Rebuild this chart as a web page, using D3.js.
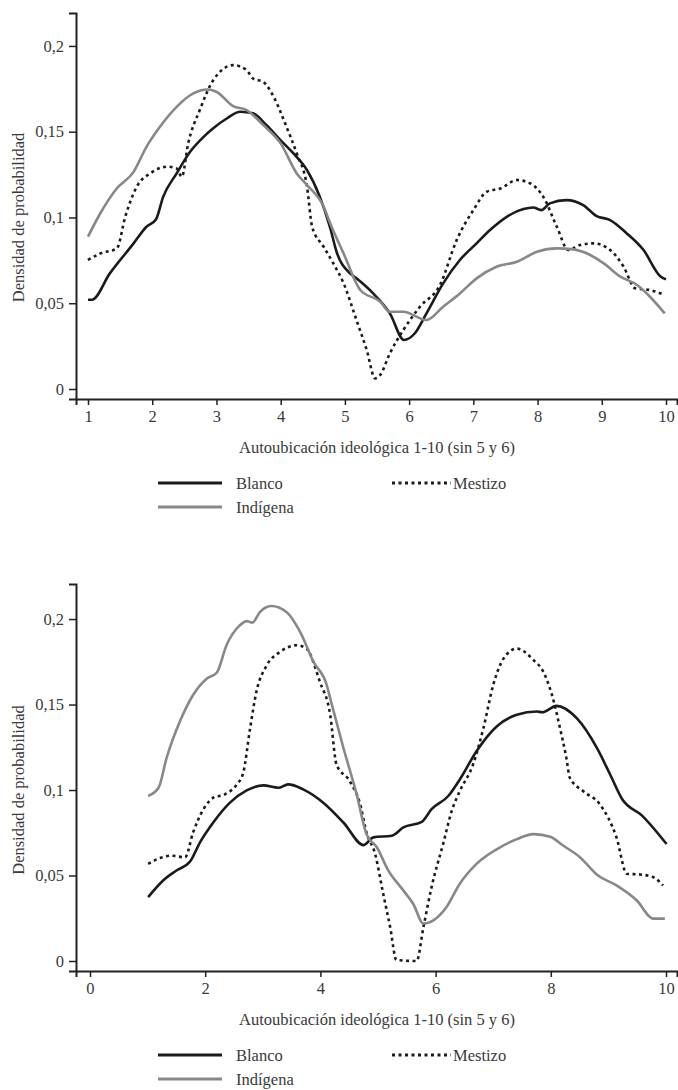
<!DOCTYPE html>
<html><head><meta charset="utf-8">
<script src="https://cdn.jsdelivr.net/npm/d3@7"></script>
<style>body{margin:0;background:#fff}svg{display:block}text{font-family:"Liberation Serif","Times New Roman",serif;fill:#3a3a3a}</style>
</head><body><svg id="c" width="678" height="1090"></svg>
<script>
// ---- data ----
const seriesNames = ["Blanco", "Mestizo", "Indígena"];
const yTickValues = [0, 0.05, 0.1, 0.15, 0.2];
const yTickLabels = ["0", "0,05", "0,1", "0,15", "0,2"];
const topXTicks = [1, 2, 3, 4, 5, 6, 7, 8, 9, 10];
const bottomXTicks = [0, 2, 4, 6, 8, 10];
const xTitle = "Autoubicación ideológica 1-10 (sin 5 y 6)";
const yTitle = "Densidad de probabilidad";

const topBlanco = [[1,0.052],[1.06,0.052],[1.34,0.0674],[1.71,0.0849],[1.91,0.0946],[2.06,0.099],[2.17,0.112],[2.38,0.1257],[2.59,0.1383],[2.8,0.147],[2.95,0.152],[3.16,0.1577],[3.37,0.1616],[3.57,0.1607],[3.78,0.1538],[4.0,0.145],[4.2,0.1373],[4.41,0.1276],[4.61,0.112],[4.77,0.094],[4.87,0.08],[5.08,0.0674],[5.18,0.0645],[5.44,0.0557],[5.7,0.0441],[5.92,0.0286],[6.09,0.0325],[6.27,0.0441],[6.53,0.0616],[6.79,0.0752],[7.05,0.0849],[7.26,0.0927],[7.52,0.1004],[7.78,0.1049],[7.93,0.1058],[8.06,0.1043],[8.19,0.1082],[8.45,0.1101],[8.71,0.1072],[8.92,0.1008],[9.13,0.0985],[9.39,0.0907],[9.65,0.081],[9.91,0.0658],[10,0.0639]];
const topMestizo = [[1,0.0752],[1.19,0.079],[1.45,0.082],[1.58,0.1004],[1.76,0.118],[1.97,0.1257],[2.23,0.1296],[2.38,0.1286],[2.46,0.1237],[2.56,0.1432],[2.74,0.1626],[2.95,0.18],[3.26,0.1888],[3.47,0.1859],[3.57,0.181],[3.73,0.179],[3.89,0.1704],[4.09,0.1529],[4.25,0.1373],[4.41,0.118],[4.49,0.0946],[4.67,0.0829],[4.82,0.0732],[4.98,0.0616],[5.18,0.0402],[5.34,0.0227],[5.47,0.0062],[5.55,0.0082],[5.7,0.0208],[5.91,0.0344],[6.17,0.048],[6.48,0.0606],[6.74,0.0868],[7.0,0.1043],[7.21,0.115],[7.42,0.1169],[7.68,0.1218],[7.89,0.1198],[8.09,0.112],[8.3,0.0946],[8.48,0.081],[8.66,0.0839],[8.87,0.0849],[9.13,0.081],[9.34,0.0713],[9.52,0.0587],[9.75,0.0577],[9.98,0.0548]];
const topIndigena = [[1,0.0888],[1.19,0.1023],[1.45,0.117],[1.71,0.1266],[1.91,0.1412],[2.12,0.1529],[2.38,0.1645],[2.64,0.1723],[2.85,0.1746],[3.0,0.1733],[3.26,0.1649],[3.47,0.1626],[3.73,0.1538],[4.0,0.1432],[4.25,0.1257],[4.41,0.1189],[4.67,0.1062],[4.77,0.0966],[4.98,0.079],[5.24,0.0577],[5.55,0.0509],[5.7,0.045],[5.91,0.045],[6.27,0.0402],[6.53,0.048],[6.79,0.0557],[7.05,0.0645],[7.36,0.0713],[7.68,0.0742],[7.99,0.08],[8.3,0.082],[8.56,0.0814],[8.82,0.0781],[9.03,0.0732],[9.29,0.0655],[9.55,0.0606],[9.75,0.0538],[9.98,0.0441]];

const bottomBlanco = [[1.01,0.0374],[1.27,0.0471],[1.5,0.0529],[1.74,0.0583],[1.91,0.0694],[2.14,0.081],[2.43,0.0926],[2.72,0.0998],[3.01,0.1027],[3.27,0.1013],[3.44,0.1033],[3.7,0.1004],[4.05,0.0926],[4.4,0.081],[4.75,0.0678],[4.92,0.0723],[5.24,0.0733],[5.44,0.0781],[5.76,0.0814],[5.93,0.0888],[6.22,0.0965],[6.42,0.1062],[6.71,0.1227],[7.06,0.1372],[7.41,0.144],[7.76,0.1459],[7.85,0.1455],[8.1,0.1492],[8.45,0.142],[8.8,0.1246],[9.03,0.1091],[9.24,0.0946],[9.58,0.0852],[10.01,0.0684]];
const bottomMestizo = [[1.01,0.0568],[1.22,0.0603],[1.42,0.0616],[1.65,0.0606],[1.79,0.0752],[1.97,0.0888],[2.14,0.0955],[2.34,0.0975],[2.55,0.1033],[2.66,0.11],[2.78,0.1362],[2.89,0.1576],[3.07,0.173],[3.3,0.1808],[3.59,0.1847],[3.76,0.1827],[3.99,0.1634],[4.17,0.144],[4.28,0.1149],[4.51,0.1052],[4.69,0.0917],[4.8,0.0752],[4.95,0.0626],[5.09,0.0394],[5.21,0.02],[5.32,0.0006],[5.67,0],[5.79,0.02],[5.93,0.0432],[6.13,0.0684],[6.28,0.0878],[6.42,0.0994],[6.65,0.1149],[6.83,0.1362],[7.0,0.1614],[7.18,0.1769],[7.41,0.1827],[7.7,0.176],[7.87,0.1692],[8.02,0.1556],[8.16,0.1362],[8.27,0.1188],[8.33,0.1072],[8.56,0.0994],[8.85,0.0917],[9.14,0.0723],[9.32,0.051],[9.55,0.0506],[9.78,0.049],[9.95,0.0442]];
const bottomIndigena = [[1.01,0.0965],[1.19,0.1013],[1.33,0.1188],[1.56,0.1401],[1.79,0.1556],[2.03,0.1653],[2.2,0.1686],[2.37,0.1847],[2.6,0.1963],[2.72,0.1988],[2.82,0.1979],[2.95,0.2041],[3.15,0.2076],[3.41,0.2041],[3.65,0.1924],[3.88,0.175],[4.11,0.1614],[4.17,0.1537],[4.4,0.1246],[4.63,0.0975],[4.8,0.0742],[4.98,0.0665],[5.18,0.0529],[5.44,0.0413],[5.61,0.0335],[5.79,0.0219],[6.19,0.0316],[6.42,0.0452],[6.71,0.0568],[7.12,0.0665],[7.41,0.0713],[7.7,0.0742],[7.99,0.0727],[8.22,0.0674],[8.51,0.0606],[8.82,0.05],[9.14,0.0442],[9.49,0.0355],[9.78,0.0248],[9.98,0.0248]];

// ---- styles ----
const styles = {
  "Blanco":   {stroke: "#1b1b1b", dash: null},
  "Mestizo":  {stroke: "#1b1b1b", dash: "3,3.5"},
  "Indígena": {stroke: "#888888", dash: null}
};
const FS = 16.5;

const svg = d3.select("#c");
svg.append("rect").attr("width", 678).attr("height", 1090).attr("fill", "#fff");

function panel(cfg) {
  const g = svg.append("g");
  const x = d3.scaleLinear().domain(cfg.xDomain).range([76, 677]);
  const y = d3.scaleLinear().domain(cfg.yDomain).range([cfg.bottom, cfg.top]);

  const line = d3.line().x(d => x(d[0])).y(d => y(d[1])).curve(d3.curveMonotoneX);
  cfg.series.forEach((s, i) => {
    const st = styles[seriesNames[i]];
    g.append("path").datum(s).attr("fill", "none")
      .attr("stroke", st.stroke).attr("stroke-width", 2.6)
      .attr("stroke-dasharray", st.dash).attr("stroke-linejoin", "round")
      .attr("d", line);
  });

  const ya = g.append("g").attr("transform", "translate(76,0)")
    .call(d3.axisLeft(y).tickValues(yTickValues).tickFormat((d, i) => yTickLabels[i]).tickSizeOuter(0).tickSize(7).tickPadding(5));
  const xa = g.append("g").attr("transform", `translate(0,${cfg.bottom})`)
    .call(d3.axisBottom(x).tickValues(cfg.xTicks).tickFormat(d => String(d)).tickSizeOuter(0).tickSize(6).tickPadding(5));
  [ya, xa].forEach(a => {
    a.attr("font-family", null);
    a.select(".domain").attr("stroke", "#222").attr("stroke-width", 2);
    a.selectAll(".tick line").attr("stroke", "#222").attr("stroke-width", 1.5);
    a.selectAll(".tick text").attr("font-size", FS).attr("fill", "#444");
  });

  g.append("text").attr("transform", `translate(18,${(y(0) + y(0.2)) / 2}) rotate(-90)`)
    .attr("text-anchor", "middle").attr("dominant-baseline", "central")
    .attr("font-size", FS).text(yTitle);
  g.append("text").attr("x", 377).attr("y", cfg.bottom + 48)
    .attr("text-anchor", "middle").attr("dominant-baseline", "central")
    .attr("font-size", FS).text(xTitle);

  const ly1 = cfg.bottom + 84, ly2 = cfg.bottom + 108;
  const leg = [
    {name: "Blanco", x1: 158, x2: 222, tx: 236, y: ly1},
    {name: "Mestizo", x1: 392, x2: 451, tx: 453, y: ly1},
    {name: "Indígena", x1: 158, x2: 222, tx: 236, y: ly2}
  ];
  leg.forEach(l => {
    const st = styles[l.name];
    g.append("line").attr("x1", l.x1).attr("x2", l.x2).attr("y1", l.y).attr("y2", l.y)
      .attr("stroke", st.stroke).attr("stroke-width", 3).attr("stroke-dasharray", st.dash);
    g.append("text").attr("x", l.tx).attr("y", l.y).attr("dominant-baseline", "central")
      .attr("font-size", FS).text(l.name);
  });
}

panel({xDomain: [0.813, 10.171], yDomain: [-0.00583, 0.2192], top: 13, bottom: 399,
       xTicks: topXTicks, series: [topBlanco, topMestizo, topIndigena]});
panel({xDomain: [-0.243, 10.191], yDomain: [-0.00585, 0.2205], top: 584, bottom: 971,
       xTicks: bottomXTicks, series: [bottomBlanco, bottomMestizo, bottomIndigena]});
</script></body></html>
